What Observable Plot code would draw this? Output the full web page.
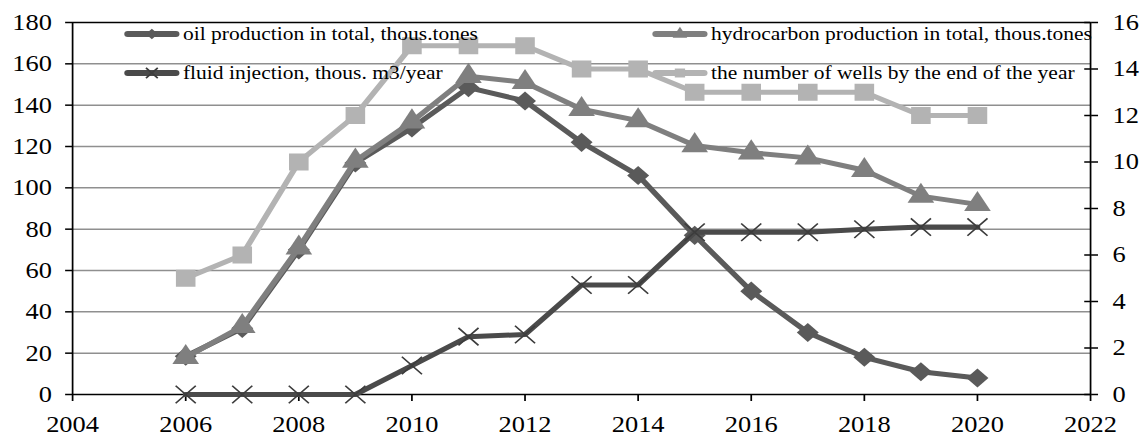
<!DOCTYPE html>
<html><head><meta charset="utf-8">
<script src="https://cdn.jsdelivr.net/npm/d3@7"></script>
<script src="https://cdn.jsdelivr.net/npm/@observablehq/plot@0.6"></script>
<style>
html,body{margin:0;padding:0;background:#fff;overflow:hidden}
#wrap{position:relative;width:997px;height:437px;transform:scaleX(1.1505);transform-origin:0 0;font-family:"Liberation Serif","Times New Roman",serif}
.leg{position:absolute;display:flex;align-items:center;height:24px;font-size:18.7px;white-space:nowrap;color:#000}
.leg svg{margin-right:3px;overflow:visible}
</style></head><body><div id="wrap"></div>
<script>
// ---- data ----
const years = [2006,2007,2008,2009,2010,2011,2012,2013,2014,2015,2016,2017,2018,2019,2020];
const oil   = [18.5,32,70,112,129,148.5,142,122,106,77,50,30,18,11,8];
const hydro = [18,33,71,113,132,154,151,138,132.5,120.5,117,114.5,108.5,96,92];
const fluid = [0,0,0,0,14,28,29,53,53,78.5,78.5,78.5,80,81,81];
const wells = [5,6,10,12,15,15,15,14,14,13,13,13,13,12,12];
const xTicks = [2004,2006,2008,2010,2012,2014,2016,2018,2020,2022];
const leftTicks = [0,20,40,60,80,100,120,140,160,180];
const rightTicks = [0,2,4,6,8,10,12,14,16];
const seriesNames = ["oil production in total, thous.tones","hydrocarbon production in total, thous.tones","fluid injection, thous. m3/year","the number of wells by the end of the year"];
const colors = {oil:"#5a5a5a", hydro:"#7f7f7f", fluid:"#4a4a4a", wells:"#b3b3b3"};

const S = 180/16; // secondary axis (0-16) onto primary (0-180)
const rows = years.map((year,i)=>({year, oil:oil[i], hydro:hydro[i], fluid:fluid[i], wells:wells[i]*S}));

const lineOpts = (key)=>({x:"year", y:key, stroke:colors[key], strokeWidth:5, strokeLinejoin:"round", strokeLinecap:"round"});

const chart = Plot.plot({
  width: 997, height: 437,
  marginLeft: 62.6, marginRight: 49.6, marginTop: 22, marginBottom: 43,
  style: {fontFamily:"Liberation Serif, Times New Roman, serif", fontSize:"23px", color:"#000", background:"#fff"},
  x: {domain:[2004,2022]},
  y: {domain:[0,180]},
  marks: [
    Plot.gridY(leftTicks.filter(v=>v>0&&v<180), {stroke:"#8f8f8f", strokeOpacity:1, strokeWidth:1.5}),
    Plot.ruleY([0,180], {stroke:"#000", strokeWidth:1.5}),
    Plot.ruleX([2004,2022], {stroke:"#000", strokeWidth:1.5}),
    Plot.axisX(xTicks, {tickSize:7, tickPadding:14, tickFormat:d=>String(d), strokeWidth:1.5, fontSize:23, label:null}),
    Plot.axisY(leftTicks, {anchor:"left", tickSize:6, tickPadding:12, tickFormat:d=>String(d), strokeWidth:1.5, fontSize:23, label:null}),
    Plot.axisY(rightTicks.map(v=>v*S), {anchor:"right", tickSize:6, tickPadding:13, tickFormat:d=>String(Math.round(d/S)), strokeWidth:1.5, fontSize:23, label:null}),
    Plot.axisY(rightTicks.map(v=>v*S), {anchor:"right", tickSize:6, dx:-6, tickFormat:()=>"", strokeWidth:1.5, label:null}),
    Plot.line(rows, lineOpts("oil")),
    Plot.dot(rows, {x:"year", y:"oil", symbol:"diamond2", r:8.6, fill:colors.oil, stroke:"none"}),
    Plot.line(rows, lineOpts("hydro")),
    Plot.dot(rows, {x:"year", y:"hydro", symbol:"triangle", r:8.6, fill:colors.hydro, stroke:"none"}),
    Plot.line(rows, lineOpts("fluid")),
    Plot.dot(rows, {x:"year", y:"fluid", symbol:"times", r:8, fill:"none", stroke:"#3c3c3c", strokeWidth:1.5}),
    Plot.line(rows, lineOpts("wells")),
    Plot.dot(rows, {x:"year", y:"wells", symbol:"square", r:9.6, fill:colors.wells, stroke:"none"})
  ]
});
const wrap = document.getElementById("wrap");
wrap.appendChild(chart);

// ---- legend overlaid inside the plot area ----
const legendItems = [
  {key:"oil", sym:d3.symbolDiamond2, size:70, left:108, top:22, name:seriesNames[0]},
  {key:"hydro", sym:d3.symbolTriangle, size:70, left:567, top:22, name:seriesNames[1]},
  {key:"fluid", sym:d3.symbolTimes, size:70, left:108, top:61, name:seriesNames[2]},
  {key:"wells", sym:d3.symbolSquare, size:80, left:567, top:61, name:seriesNames[3]}
];
for (const it of legendItems) {
  const div = document.createElement("div");
  div.className = "leg";
  div.style.left = it.left + "px";
  div.style.top = it.top + "px";
  const ns = "http://www.w3.org/2000/svg";
  const svg = document.createElementNS(ns, "svg");
  svg.setAttribute("width", 48); svg.setAttribute("height", 14);
  const ln = document.createElementNS(ns, "line");
  ln.setAttribute("x1", 3); ln.setAttribute("x2", 45); ln.setAttribute("y1", 7); ln.setAttribute("y2", 7);
  ln.setAttribute("stroke", colors[it.key]); ln.setAttribute("stroke-width", 6); ln.setAttribute("stroke-linecap", "round");
  svg.appendChild(ln);
  const p = document.createElementNS(ns, "path");
  p.setAttribute("d", d3.symbol(it.sym, it.size)());
  p.setAttribute("transform", "translate(24,7)");
  if (it.key === "fluid") { p.setAttribute("fill","none"); p.setAttribute("stroke","#3c3c3c"); p.setAttribute("stroke-width",1.5); }
  else p.setAttribute("fill", colors[it.key]);
  svg.appendChild(p);
  div.appendChild(svg);
  const span = document.createElement("span");
  span.textContent = it.name;
  div.appendChild(span);
  wrap.appendChild(div);
}
</script></body></html>
